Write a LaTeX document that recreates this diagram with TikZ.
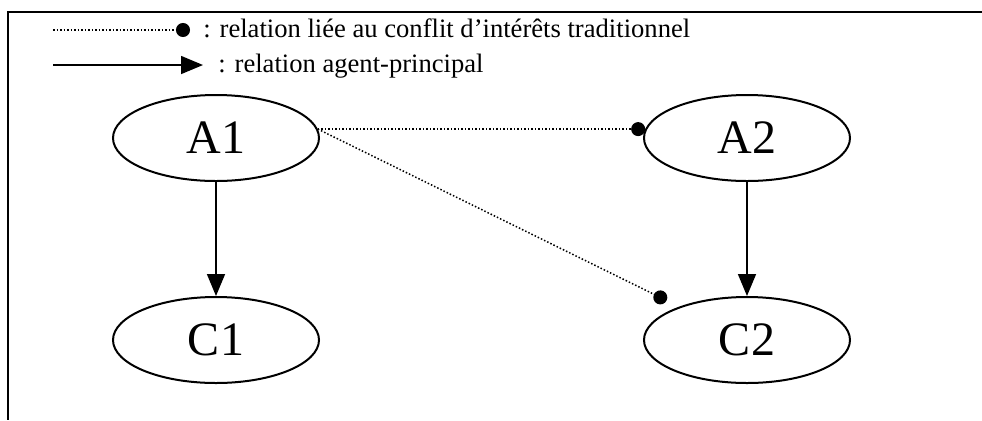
\documentclass[tikz,border=0pt]{standalone}
\usepackage{fontspec}
\setmainfont{Liberation Serif}
\usepackage{tkz-euclide}
\usetikzlibrary{arrows.meta,shapes.geometric}

\tikzset{
  acteur/.style={draw,ellipse,line width=1pt,minimum width=103pt,minimum height=43pt,
    inner sep=0pt,font=\fontsize{24}{24}\selectfont},
  conflit/.style={densely dotted,line width=0.75pt,-{Circle[length=7pt]}},
  mandat/.style={line width=0.8pt,-{Triangle[length=11pt,width=9pt]}},
  legende/.style={anchor=base west,inner sep=0pt,font=\fontsize{13.3}{14}\selectfont}
}

\begin{document}
\begin{tikzpicture}[x=0.5pt,y=-0.5pt]
                \useasboundingbox (0,0) rectangle (982,420);
                \draw[line width=1.25pt] (982,12) -- (8,12) -- (8,420);
                \tkzDefPoints{53/30/l1,190/30/l2,53/65/l3,203/65/l4}
                \tkzDefPoints{216/138/a1,747/138/a2,216/340/c1,747/340/c2}
                \draw[conflit] (l1) -- (l2);
                \draw[mandat] (l3) -- (l4);
                \node[legende] (t1) at (203,37) {: relation liée au conflit d’intérêts traditionnel};
                \node[legende] (t2) at (218,72) {: relation agent-principal};
                \node[acteur] (A1) at (a1) {A1};
                \node[acteur] (A2) at (a2) {A2};
                \node[acteur] (C1) at (c1) {C1};
                \node[acteur] (C2) at (c2) {C2};
                \draw[mandat] (A1) -- (C1);
                \draw[mandat] (A2) -- (C2);
                \draw[conflit] (A1.5) -- (A2.175);
                \draw[conflit,shorten >=7pt] (A1.5) -- (C2);
            \end{tikzpicture}
\end{document}
